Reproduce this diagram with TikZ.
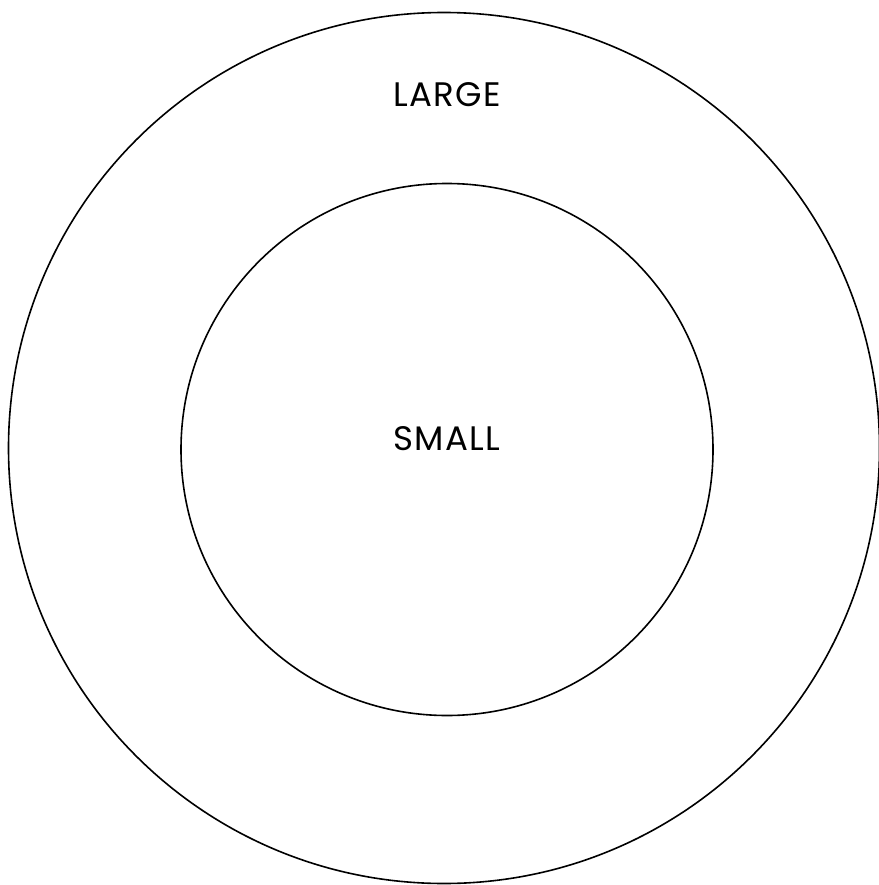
\documentclass[tikz,border=0pt]{standalone}
\usepackage{fontspec}
\setmainfont{Poppins}
\newfontfamily\lblfont[LetterSpace=4]{Poppins}
\begin{document}
\begin{tikzpicture}[x=1pt,y=-1pt,
  ring/.style={draw=black,line width=1.6pt,circle},
  lbl/.style={font=\lblfont\fontsize{34}{38}\selectfont,text=black,inner sep=0pt,anchor=base}]
\useasboundingbox (0,0) rectangle (878,885);
\draw[ring] (444,448) circle (435.5);
\draw[ring] (447,449.5) circle (266);
\node[lbl] (large) at (447,107) {LARGE};
\node[lbl] (small) at (447,450) {SMALL};
\end{tikzpicture}
\end{document}
